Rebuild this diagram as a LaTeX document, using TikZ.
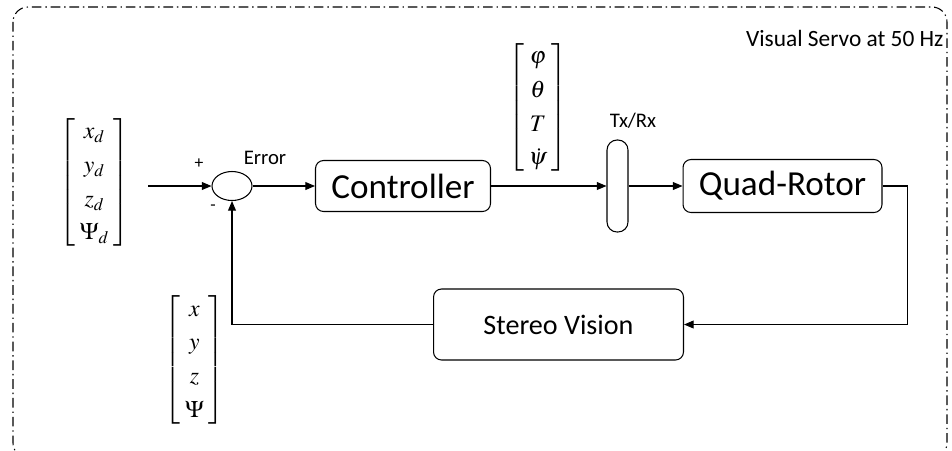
\documentclass[tikz,border=0pt]{standalone}
\usepackage{amsmath}
\usepackage{mathptmx}
\usepackage{fontspec}
\setmainfont{Carlito}
\usetikzlibrary{arrows.meta,positioning,shapes.geometric}

\tikzset{
  block/.style={draw, rounded corners=0.16cm, inner sep=0pt},
  sumnode/.style={draw, ellipse, minimum width=0.8cm, minimum height=0.58cm, inner sep=0pt},
  pill/.style={draw, rounded corners=0.2cm, minimum width=0.42cm, minimum height=1.84cm, inner sep=0pt},
  vec/.style={inner sep=0pt, font=\fontsize{13.5}{16}\selectfont},
  lbl/.style={inner sep=0pt, font=\fontsize{11.8}{14}\selectfont},
  frame/.style={dash pattern=on 5.5pt off 2.2pt on 0.8pt off 2.2pt, rounded corners=0.3cm}
}

\begin{document}
\begin{tikzpicture}[x=0.02cm, y=-0.02cm, line width=0.6pt,
  >={Triangle[length=5.5pt,width=4.5pt]}]
\useasboundingbox (0,0) rectangle (952,450);
\draw[frame] (13,7) rectangle (947,458);

% blocks
\node (sum) [sumnode] at (232,186) {};
\node (ctrl) [block, minimum width=3.5cm, minimum height=1.02cm,
  font=\fontsize{20}{24}\selectfont] at (403,186) {Controller};
\node (txrx) [pill] at (617.5,186) {};
\node (quad) [block, minimum width=3.98cm, minimum height=1.06cm,
  font=\fontsize{20}{24}\selectfont] at (782.5,186) {Quad-Rotor};
\node (stereo) [block, minimum width=5.0cm, minimum height=1.42cm,
  font=\fontsize{16}{19}\selectfont] at (558.5,324.5) {Stereo Vision};

% labels
\node (plus) [lbl, font=\fontsize{10}{12}\selectfont] at (199,164) {+};
\node (minus) [lbl, font=\fontsize{10}{12}\selectfont] at (213,208) {-};
\node (err) [lbl] at (265,158) {Error};
\node (txl) [lbl] at (633,121) {Tx/Rx};
\node (vs) [lbl, font=\fontsize{13.3}{16}\selectfont, anchor=east] at (944,38) {Visual Servo at 50 Hz};

% vectors
{\renewcommand{\arraystretch}{1.2}\setlength{\arraycolsep}{2.5pt}
\node (ref) [vec] at (94.5,182.5) {$\left[\begin{array}{c} x_d\\ y_d\\ z_d\\ \Psi_d \end{array}\right]$};
\node (cmd) [vec] at (538,107.5) {$\left[\begin{array}{c} \varphi\\ \theta\\ T\\ \dot{\psi} \end{array}\right]$};
\node (meas) [vec] at (194.5,360) {$\left[\begin{array}{c} x\\ y\\ z\\ \Psi \end{array}\right]$};
}

% connectors
\coordinate (in) at (148,186);
\draw[->] (in) -- (sum.west);
\draw[->] (sum.east) -- (ctrl.west);
\draw[->] (ctrl.east) -- (txrx.west |- ctrl.east);
\draw[->] (txrx.east |- quad.west) -- (quad.west);
\draw[->] (quad.east) -- ++(25,0) |- (stereo.east);
\draw[->] (stereo.west) -| (sum.south);
\end{tikzpicture}
\end{document}
